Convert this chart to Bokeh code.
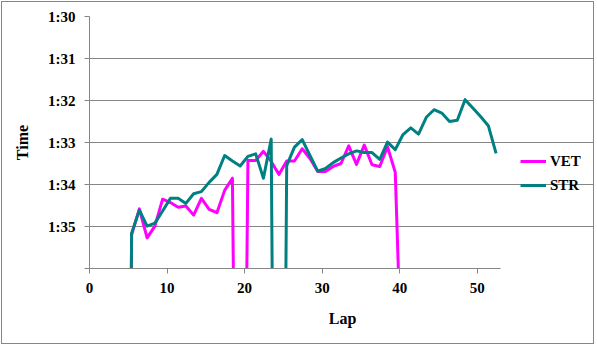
from bokeh.plotting import figure
from bokeh.models import Range1d, FixedTicker, Legend, LegendItem
from bokeh.embed import file_html
from bokeh.resources import INLINE

# Lap times in seconds (1:30 = 90 s); values above 96 are off-scale pit / slow laps
vet_laps = list(range(4, 41))
vet_times = [120.0, 95.20, 94.58, 95.27, 94.99, 94.35, 94.43, 94.54, 94.51, 94.73,
             94.33, 94.59, 94.67, 94.14, 93.85, 112.0, 93.43, 93.43, 93.21, 93.45,
             93.76, 93.44, 93.44, 93.15, 93.38, 93.69, 93.69, 93.57, 93.50, 93.08,
             93.52, 93.06, 93.53, 93.57, 93.10, 93.71, 99.5]

str_laps = list(range(4, 53))
str_times = [120.0, 95.16, 94.61, 94.99, 94.92, 94.63, 94.33, 94.33, 94.45, 94.22,
             94.17, 93.95, 93.76, 93.31, 93.44, 93.56, 93.33, 93.27, 93.85, 92.92,
             118.0, 93.55, 93.11, 92.93, 93.31, 93.68, 93.62, 93.48, 93.37, 93.27,
             93.20, 93.24, 93.24, 93.40, 92.99, 93.17, 92.81, 92.65, 92.80, 92.40,
             92.22, 92.30, 92.50, 92.47, 91.98, 92.18, 92.38, 92.60, 93.26]

x_ticks = [0, 10, 20, 30, 40, 50]
x_axis_max = 53
y_ticks = [90, 91, 92, 93, 94, 95, 96]
y_labels = ["1:30", "1:31", "1:32", "1:33", "1:34", "1:35", ""]

series_names = ["VET", "STR"]
series_colors = ["#FF00FF", "#008080"]

LAP_SHIFT = 0.43
FONT = "Liberation Serif"
GRAY = "#868686"

# frame spans the full width (legend lives inside it); axis/grid are bounded to 0..53
PLOT_W = 411.0
FRAME_W = 506.0
p = figure(width=593, height=343, output_backend="svg", toolbar_location=None,
           x_range=Range1d(0, x_axis_max * FRAME_W / PLOT_W), y_range=Range1d(96, 90),
           min_border_left=87, min_border_right=0, min_border_top=14,
           min_border_bottom=77, background_fill_color="white",
           border_fill_color="white")
p.styles = {"border": "1px solid #868686", "margin": "1px"}
p.outline_line_color = None

renderers = []
for laps, times, color in [(vet_laps, vet_times, series_colors[0]),
                           (str_laps, str_times, series_colors[1])]:
    xs = [l + LAP_SHIFT for l in laps]
    r = p.line(xs, times, line_color=color, line_width=3, line_join="round")
    renderers.append(r)

# axes
p.xaxis.ticker = FixedTicker(ticks=x_ticks)
p.xaxis.bounds = (0, x_axis_max)
p.yaxis.ticker = FixedTicker(ticks=y_ticks)
p.yaxis.major_label_overrides = {t: lab for t, lab in zip(y_ticks, y_labels)}
for ax in (p.xaxis[0], p.yaxis[0]):
    ax.axis_line_color = GRAY
    ax.major_tick_line_color = GRAY
    ax.minor_tick_line_color = None
    ax.major_tick_in = 0
    ax.major_tick_out = 5
    ax.major_label_text_font = FONT
    ax.major_label_text_font_style = "bold"
    ax.major_label_text_font_size = "15px"
    ax.major_label_text_color = "black"
    ax.axis_label_text_font = FONT
    ax.axis_label_text_font_style = "bold"
    ax.axis_label_text_font_size = "16px"
    ax.axis_label_text_color = "black"
p.xaxis.axis_label = "Lap"
p.yaxis.axis_label = "Time"
p.xaxis.major_label_standoff = 9
p.yaxis.major_label_standoff = 9
p.xaxis.axis_label_standoff = 14
p.yaxis.axis_label_standoff = 14

p.xgrid.visible = False
p.ygrid.ticker = FixedTicker(ticks=y_ticks)
p.ygrid.bounds = (0, x_axis_max)
p.ygrid.grid_line_color = GRAY
p.ygrid.grid_line_width = 1

legend = Legend(items=[LegendItem(label=n, renderers=[r]) for n, r in zip(series_names, renderers)],
                location=(431, 73), orientation="vertical")
legend.border_line_color = None
legend.background_fill_alpha = 0
legend.padding = 0
legend.margin = 0
legend.spacing = 4
legend.glyph_width = 26
legend.glyph_height = 20
legend.label_height = 20
legend.label_standoff = 4
legend.label_text_font = FONT
legend.label_text_font_style = "bold"
legend.label_text_font_size = "15px"
legend.label_text_color = "black"
p.add_layout(legend, "center")

open("out.html", "w").write(file_html(p, INLINE))
